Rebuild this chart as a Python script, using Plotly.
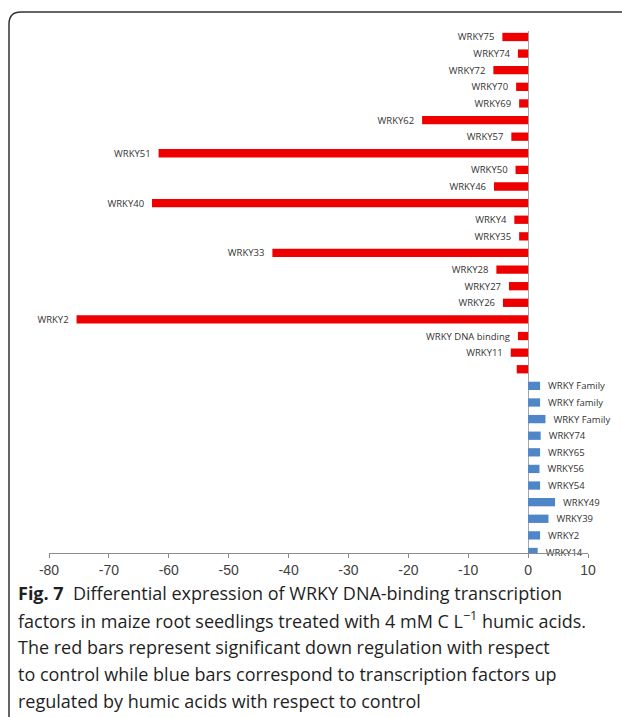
import plotly.graph_objects as go

# WRKY transcription factors, listed top to bottom, log fold change vs control
labels = ["WRKY75", "WRKY74", "WRKY72", "WRKY70", "WRKY69", "WRKY62", "WRKY57",
          "WRKY51", "WRKY50", "WRKY46", "WRKY40", "WRKY4", "WRKY35", "WRKY33",
          "WRKY28", "WRKY27", "WRKY26", "WRKY2", "WRKY DNA binding", "WRKY11", "",
          "WRKY Family", "WRKY family", "WRKY Family", "WRKY74", "WRKY65",
          "WRKY56", "WRKY54", "WRKY49", "WRKY39", "WRKY2", "WRKY14"]
values = [-4.3, -1.7, -5.8, -2.0, -1.5, -17.7, -2.8,
          -61.7, -2.1, -5.7, -62.8, -2.3, -1.5, -42.7,
          -5.3, -3.2, -4.2, -75.4, -1.7, -2.9, -1.9,
          2.0, 2.0, 2.9, 2.1, 2.0,
          1.9, 2.0, 4.5, 3.4, 2.0, 1.6]
x_ticks = [-80, -70, -60, -50, -40, -30, -20, -10, 0, 10]

caption_lines = [
    "<b>Fig. 7</b>  Differential expression of WRKY DNA-binding transcription",
    "factors in maize root seedlings treated with 4 mM C L<sup>\u22121</sup> humic acids.",
    "The red bars represent significant down regulation with respect",
    "to control while blue bars correspond to transcription factors up",
    "regulated by humic acids with respect to control",
]

RED = "#ee0000"
BLUE = "#4f86c8"

W, H = 622, 717
ML, MR, MT, MB = 49, 34, 31, 164
PW, PH = W - ML - MR, H - MT - MB


def px_x(px):
    return (px - ML) / PW


def px_y(py):
    return (H - MB - py) / PH


positions = list(range(len(values)))
colors = [RED if v < 0 else BLUE for v in values]

# keep a little space between each label and the end of its bar
pad = "\u00a0\u00a0"
bar_text = [
    "" if not lab else (lab + pad if v < 0 else pad + lab)
    for lab, v in zip(labels, values)
]

fig = go.Figure(go.Bar(
    x=values, y=positions, orientation="h", width=0.5,
    marker=dict(color=colors, line=dict(width=0)),
    text=bar_text, textposition="outside", constraintext="none",
    cliponaxis=False,
    textfont=dict(family="Open Sans", size=9.5, color="#333333"),
    hovertext=labels, hoverinfo="x+text",
))

fig.update_xaxes(
    range=[-80, 10], tickvals=x_ticks, ticktext=[str(t) for t in x_ticks],
    showgrid=False,
    zeroline=True, zerolinecolor="#a6a6a6", zerolinewidth=1,
    showline=True, linecolor="#8c8c8c", linewidth=1,
    ticks="outside", ticklen=4, tickcolor="#8c8c8c",
    tickfont=dict(family="Liberation Sans", size=14, color="#404040"),
)
fig.update_yaxes(
    range=[31.06, -0.36], showticklabels=False, showgrid=False,
    zeroline=False, showline=False,
)

# rounded frame around the figure panel
r = 12
frame = (f"M {px_x(9)},{px_y(717)} L {px_x(9)},{px_y(12 + r)} "
         f"Q {px_x(9)},{px_y(12)} {px_x(9 + r)},{px_y(12)} L {px_x(622)},{px_y(12)}")
fig.add_shape(type="path", path=frame, xref="paper", yref="paper",
              line=dict(color="#333333", width=1.5))

line_y = [593, 620, 647, 674, 701]
for txt, yy in zip(caption_lines, line_y):
    fig.add_annotation(
        text=txt, xref="paper", yref="paper", x=px_x(16), y=px_y(yy),
        xanchor="left", yanchor="middle", showarrow=False, align="left",
        font=dict(family="Open Sans", size=18, color="#1f1f1f"),
    )

fig.update_layout(
    width=W, height=H, margin=dict(l=ML, r=MR, t=MT, b=MB),
    plot_bgcolor="white", paper_bgcolor="white", showlegend=False,
    bargap=0.5,
)

fig.write_html("out.html")
